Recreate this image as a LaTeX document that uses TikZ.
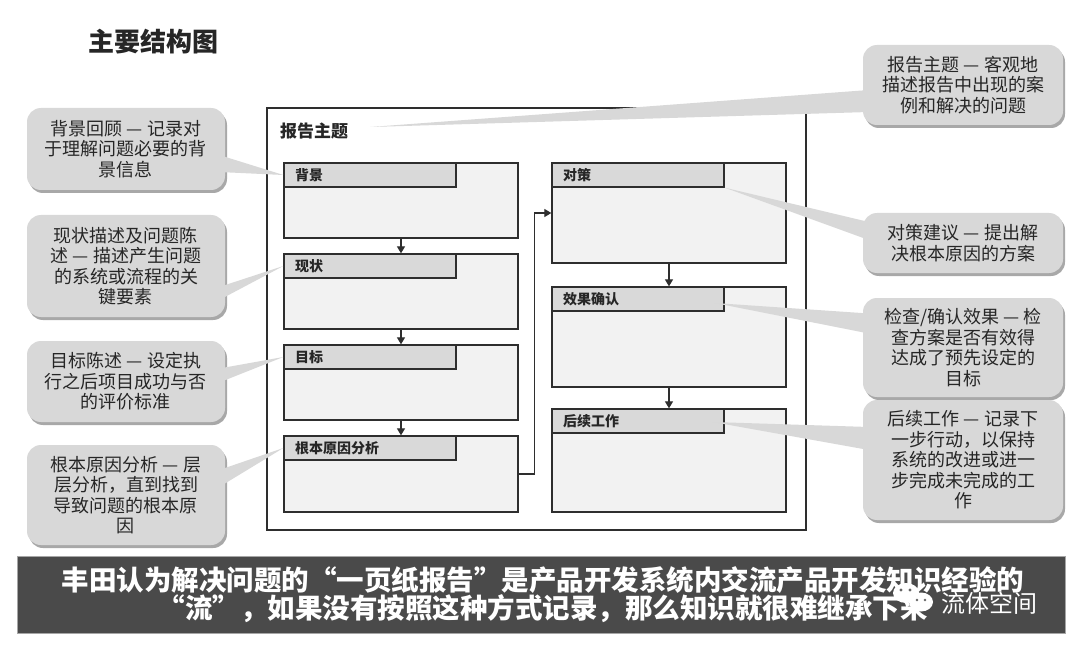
\documentclass[tikz,border=0pt]{standalone}
\usepackage{fontspec}
\setmainfont{Noto Sans CJK SC}
\usetikzlibrary{arrows.meta,calc,shadows}
\definecolor{callfill}{HTML}{D8D8D8}
\definecolor{callshadow}{HTML}{A8A8A8}
\definecolor{bodyfill}{HTML}{F2F2F2}
\definecolor{headfill}{HTML}{D9D9D9}
\definecolor{linecol}{HTML}{2E2E2E}
\definecolor{bannercol}{HTML}{4A4A4A}
\definecolor{txtcol}{HTML}{262626}
\tikzset{
  x=1pt, y=-1pt,
  callout/.style={fill=callfill, rounded corners=14pt, align=center, inner sep=0pt,
    font=\fontsize{18}{20.5}\selectfont, text=txtcol,
    drop shadow={shadow xshift=2pt, shadow yshift=-3pt, fill=callshadow, opacity=1}},
  wedge/.style={fill=callfill},
  bodybox/.style={draw=linecol, line width=1.3pt, fill=bodyfill, minimum width=234pt, inner sep=0pt},
  headbox/.style={draw=linecol, line width=1.3pt, fill=headfill, anchor=north west, minimum height=24pt,
    inner xsep=11pt, inner ysep=0pt, text width=150pt, align=left, font=\fontsize{14}{14}\selectfont\bfseries, text=txtcol},
  flow/.style={draw=linecol, line width=1.2pt, -{Triangle[length=7pt,width=8pt]}},
}
\begin{document}
\begin{tikzpicture}
\useasboundingbox (0,0) rectangle (1080,650);
\fill[white] (0,0) rectangle (1080,650);

% title
\node[font=\fontsize{26}{26}\selectfont\bfseries, text=txtcol] (title) at (153,42) {主要结构图};

% callouts left
\node[callout, minimum width=198pt, minimum height=82pt] (c1) at (126,149) {背景回顾 — 记录对\\于理解问题必要的背\\景信息};
\node[callout, minimum width=198pt, minimum height=102pt] (c2) at (126,266) {现状描述及问题陈\\述 — 描述产生问题\\的系统或流程的关\\键要素};
\node[callout, minimum width=198pt, minimum height=81pt] (c3) at (126,381.5) {目标陈述 — 设定执\\行之后项目成功与否\\的评价标准};
\node[callout, minimum width=198pt, minimum height=100pt] (c4) at (126,495) {根本原因分析 — 层\\层分析，直到找到\\导致问题的根本原\\因};

% callouts right
\node[callout, minimum width=200pt, minimum height=80pt] (r1) at (963,85) {报告主题 — 客观地\\描述报告中出现的案\\例和解决的问题};
\node[callout, minimum width=200pt, minimum height=60pt] (r2) at (963,243) {对策建议 — 提出解\\决根本原因的方案};
\node[callout, minimum width=200pt, minimum height=99pt] (r3) at (963,347.5) {检查/确认效果 — 检\\查方案是否有效得\\达成了预先设定的\\目标};
\node[callout, minimum width=200pt, minimum height=120pt] (r4) at (963,460) {后续工作 — 记录下\\一步行动，以保持\\系统的改进或进一\\步完成未完成的工\\作};

% frame
\draw[draw=linecol, line width=1.2pt] (267,108) rectangle (806,530);
\node[anchor=west, font=\fontsize{17}{17}\selectfont\bfseries, text=txtcol, inner sep=0pt] (topic) at (280,131) {报告主题};

% left boxes
\node[bodybox, minimum height=75pt] (b1) at (401,200.5) {};
\node[bodybox, minimum height=75pt] (b2) at (401,291.5) {};
\node[bodybox, minimum height=75pt] (b3) at (401,382.5) {};
\node[bodybox, minimum height=76pt] (b4) at (401,474) {};
\node[headbox] (h1) at (b1.north west) {背景};
\node[headbox] (h2) at (b2.north west) {现状};
\node[headbox] (h3) at (b3.north west) {目标};
\node[headbox] (h4) at (b4.north west) {根本原因分析};

% right boxes
\node[bodybox, minimum height=100pt] (ba) at (669,213) {};
\node[bodybox, minimum height=100pt] (bb) at (669,337) {};
\node[bodybox, minimum height=103pt] (bc) at (669,460.5) {};
\node[headbox] (ha) at (ba.north west) {对策};
\node[headbox] (hb) at (bb.north west) {效果确认};
\node[headbox] (hc) at (bc.north west) {后续工作};

% wedges
\fill[wedge] ($(c1.east)+(-6,6)$) -- (h1.west) -- ($(c1.east)+(-6,23)$) -- cycle;
\fill[wedge] ($(c2.east)+(-6,21)$) -- (h2.west) -- ($(c2.east)+(-6,34)$) -- cycle;
\fill[wedge] ($(c3.east)+(-6,-13)$) -- (h3.west) -- ($(c3.east)+(-6,1)$) -- cycle;
\fill[wedge] ($(c4.east)+(-6,-25)$) -- (h4.west) -- ($(c4.east)+(-6,-8)$) -- cycle;
\fill[wedge] ($(r1.west)+(6,5)$) -- ($(topic.east)+(22,-4)$) -- ($(r1.west)+(6,27)$) -- cycle;
\fill[wedge] ($(r2.west)+(6,-21)$) -- (ha.south east) -- ($(r2.west)+(6,-3)$) -- cycle;
\fill[wedge] ($(r3.west)+(6,-34)$) -- ($(hb.east)+(-10,4)$) -- ($(r3.west)+(6,-14)$) -- cycle;
\fill[wedge] ($(r4.west)+(6,-33)$) -- ($(hc.east)+(-12,1)$) -- ($(r4.west)+(6,-10)$) -- cycle;

% flow arrows
\draw[flow] (b1.south) -- (b2.north);
\draw[flow] (b2.south) -- (b3.north);
\draw[flow] (b3.south) -- (b4.north);
\draw[flow] (b4.east) -- ++(16,0) |- (ba.west);
\draw[flow] (ba.south) -- (bb.north);
\draw[flow] (bb.south) -- (bc.north);

% banner
\node[fill=bannercol, draw=black!35, line width=0.8pt, minimum width=1048pt, minimum height=77pt, inner sep=0pt] (banner) at (541,594.5) {};
\node[align=center, text=white, font=\fontsize{27.5}{26}\selectfont\bfseries, inner sep=0pt] (bannertext) at (543,594.5)
  {丰田认为解决问题的“一页纸报告”是产品开发系统内交流产品开发知识经验的\\“流”，如果没有按照这种方式记录，那么知识就很难继承下来};

% watermark
\fill[white] (906,593) ellipse (13 and 10);
\fill[white] (921,602) ellipse (12 and 9.5);
\fill[black!60] (901,590) circle (1.6) (910,590) circle (1.6) (917,600) circle (1.4) (925,600) circle (1.4);
\node[anchor=west, text=white, font=\fontsize{24}{24}\selectfont, inner sep=0pt] (wm) at (941,603) {流体空间};
\end{tikzpicture}
\end{document}
